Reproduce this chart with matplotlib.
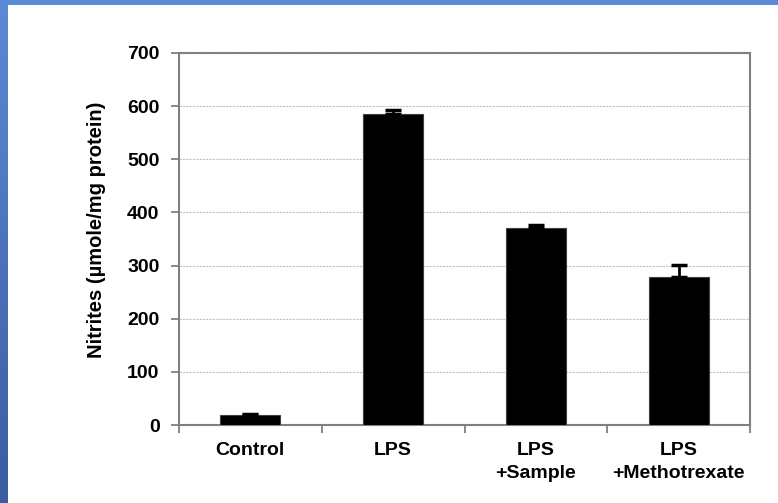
import matplotlib
matplotlib.use("Agg")
import matplotlib.pyplot as plt
import numpy as np
from matplotlib.colors import LinearSegmentedColormap

categories = ["Control", "LPS", "LPS\n+Sample", "LPS\n+Methotrexate"]
values = [19, 586, 370, 279]
errors = [2, 7, 7, 22]
yticks = [0, 100, 200, 300, 400, 500, 600, 700]

plt.rcParams['font.family'] = ['Liberation Sans', 'DejaVu Sans']

fig = plt.figure(figsize=(7.78, 5.03), dpi=100)
fig.patch.set_facecolor("white")

# blue frame (left gradient strip and top band)
cmap = LinearSegmentedColormap.from_list("b", ["#5b8ad6", "#3c5ca0"])
strip = fig.add_axes([0, 0, 8 / 778, 1])
strip.imshow(np.linspace(0, 1, 256).reshape(-1, 1), aspect="auto", cmap=cmap)
strip.axis("off")
top = fig.add_axes([0, 1 - 5 / 503, 1, 5 / 503])
top.set_facecolor("#5b8ad6")
top.set_xticks([]); top.set_yticks([])
for s in top.spines.values():
    s.set_visible(False)

ax = fig.add_axes([179 / 778, 1 - 425 / 503, (750 - 179) / 778, (425 - 53) / 503])
x = np.arange(len(categories)) + 0.5
ax.bar(x, values, width=0.42, color="black", edgecolor="#404040", linewidth=0.8, zorder=3)
ax.errorbar(x, values, yerr=[np.zeros(len(errors)), errors], fmt="none", ecolor="black",
            elinewidth=2, capsize=6, capthick=2.5, zorder=4)

ax.set_xlim(0, 4)
ax.set_ylim(0, 700)
ax.set_yticks(yticks)
ax.set_yticklabels([str(t) for t in yticks], fontsize=14, fontweight="bold")
ax.yaxis.grid(True, color="#c0c0c0", linestyle=(0, (2, 1)), linewidth=0.8, zorder=0)
ax.set_axisbelow(True)

ax.set_xticks(np.arange(0, 5))
ax.set_xticklabels([])
ax.set_xticks(x, minor=True)
ax.set_xticklabels(categories, minor=True, fontsize=14, fontweight="bold", linespacing=1.5)
ax.tick_params(axis="x", which="minor", length=0, pad=12)
ax.tick_params(axis="x", which="major", length=6, width=1.3, color="#808080", direction="out")
ax.tick_params(axis="y", length=6, width=1.3, color="#808080", direction="out", pad=8)

for s in ax.spines.values():
    s.set_color("#808080")
    s.set_linewidth(1.5)

fig.text(96 / 778, 1 - 230 / 503, "Nitrites (µmole/mg protein)", rotation=90,
         ha="center", va="center", fontsize=14.5, fontweight="bold")

fig.savefig("out.png", dpi=100)
